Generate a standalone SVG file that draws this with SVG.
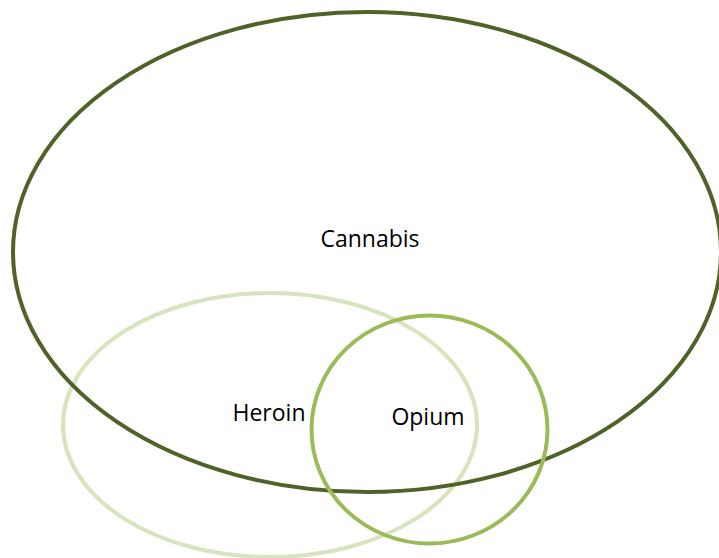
<svg xmlns="http://www.w3.org/2000/svg" width="719" height="558" viewBox="0 0 719 558">
<style>
.set{fill:none;stroke-width:4}
.lbl{font-family:"Open Sans","Liberation Sans",sans-serif;font-size:23px;fill:#000;text-anchor:middle}
</style>
<rect width="719" height="558" fill="#fff"/>
<g id="heroin">
<ellipse class="set" cx="270" cy="425" rx="207" ry="132" stroke="#d7e4bd"/>
<text class="lbl" x="269" y="421">Heroin</text>
</g>
<g id="cannabis">
<ellipse class="set" cx="367" cy="252" rx="354" ry="240" stroke="#4f6228"/>
<text class="lbl" x="370" y="247">Cannabis</text>
</g>
<g id="opium">
<ellipse class="set" cx="429.5" cy="429.5" rx="118" ry="114" stroke="#9bbb59"/>
<text class="lbl" x="428" y="425">Opium</text>
</g>
<g id="connectors"></g>
</svg>
